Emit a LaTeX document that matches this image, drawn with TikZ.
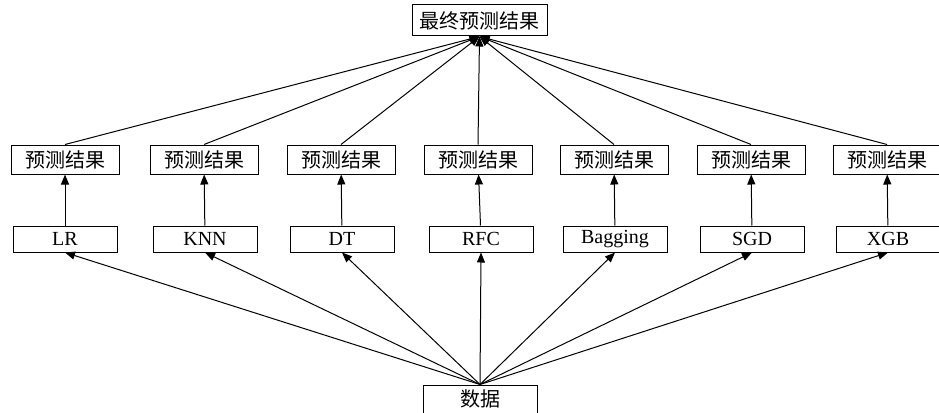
\documentclass[tikz,border=0pt]{standalone}
\usepackage{fontspec}
\setmainfont{Liberation Serif}
\newfontfamily\cjk{Noto Sans CJK SC}
\usepackage{tikz}
\usetikzlibrary{arrows.meta,positioning}

\begin{document}
\begin{tikzpicture}[
  x=1pt, y=-1pt,
  predbox/.style={rectangle, draw, line width=1pt, minimum width=108pt, minimum height=29pt, inner sep=0pt, font=\cjk\fontsize{20}{20}\selectfont},
  modelbox/.style={rectangle, draw, line width=1pt, minimum width=104pt, minimum height=26pt, inner sep=0pt, font=\fontsize{20}{20}\selectfont},
  topbox/.style={rectangle, draw, line width=1pt, minimum width=135pt, minimum height=31pt, inner sep=0pt, font=\cjk\fontsize{20}{20}\selectfont},
  arrow/.style={-{Triangle[length=10pt,width=8pt]}, line width=1pt}
]
\useasboundingbox (0,0) rectangle (939,412);
% final result and data
\node[topbox] (final) at (479.5,20.5) {最终预测结果};
\node[topbox, minimum width=114pt, minimum height=28pt] (data) at (480,399) {数据};
% model results
\node[predbox] (p1) at (65,159.5) {预测结果};
\node[predbox] (p2) at (204,159.5) {预测结果};
\node[predbox] (p3) at (341,159.5) {预测结果};
\node[predbox] (p4) at (478,159.5) {预测结果};
\node[predbox] (p5) at (614,159.5) {预测结果};
\node[predbox] (p6) at (751,159.5) {预测结果};
\node[predbox] (p7) at (887,159.5) {预测结果};
% models
\node[modelbox] (m1) at (65,239) {LR};
\node[modelbox] (m2) at (205,239) {KNN};
\node[modelbox] (m3) at (342,239) {DT};
\node[modelbox] (m4) at (481,239) {RFC};
\node[modelbox] (m5) at (615,239) {Bagging};
\node[modelbox] (m6) at (752,239) {SGD};
\node[modelbox] (m7) at (888,239) {XGB};
% data to models
\draw[arrow] (data.north) -- (m1.south);
\draw[arrow] (data.north) -- (m2.south);
\draw[arrow] (data.north) -- (m3.south);
\draw[arrow] (data.north) -- (m4.south);
\draw[arrow] (data.north) -- (m5.south);
\draw[arrow] (data.north) -- (m6.south);
\draw[arrow] (data.north) -- (m7.south);
% models to results
\draw[arrow] (m1) -- (p1);
\draw[arrow] (m2) -- (p2);
\draw[arrow] (m3) -- (p3);
\draw[arrow] (m4) -- (p4);
\draw[arrow] (m5) -- (p5);
\draw[arrow] (m6) -- (p6);
\draw[arrow] (m7) -- (p7);
% results to final
\draw[arrow] (p1.north) -- (final.south);
\draw[arrow] (p2.north) -- (final.south);
\draw[arrow] (p3.north) -- (final.south);
\draw[arrow] (p4.north) -- (final.south);
\draw[arrow] (p5.north) -- (final.south);
\draw[arrow] (p6.north) -- (final.south);
\draw[arrow] (p7.north) -- (final.south);
\end{tikzpicture}
\end{document}
